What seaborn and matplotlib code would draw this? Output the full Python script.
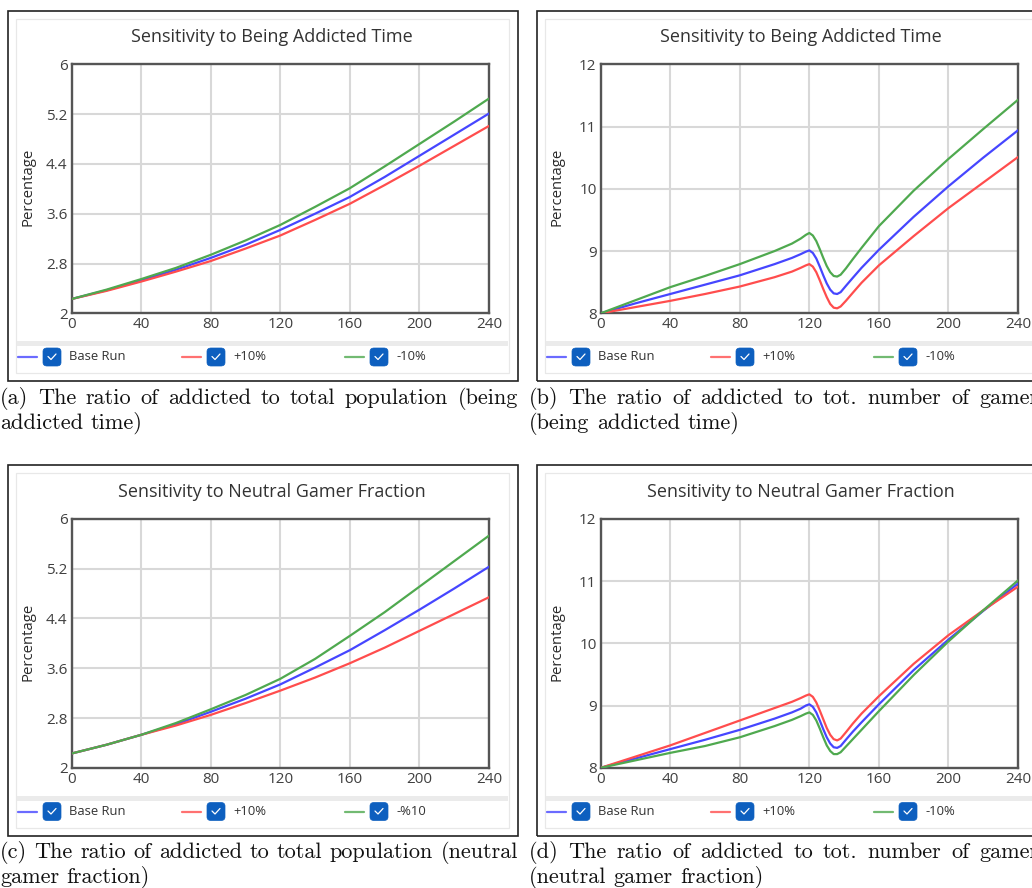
import numpy as np
import pandas as pd
import matplotlib
matplotlib.use("Agg")
import matplotlib.pyplot as plt
import seaborn as sns
from matplotlib.patches import Rectangle, FancyBboxPatch
from matplotlib.lines import Line2D

# ---------------- data ----------------
t_smooth = [0, 20, 40, 60, 80, 100, 120, 140, 160, 180, 200, 220, 240]
t_kink = [0, 20, 40, 60, 80, 100, 110, 115, 118, 120, 122, 124, 126, 128, 130, 132, 134,
          136, 138, 141, 145, 150, 160, 180, 200, 220, 240]

# (a) ratio addicted / total population, being-addicted-time sensitivity
a_base = [2.23, 2.37, 2.53, 2.70, 2.89, 3.10, 3.34, 3.60, 3.87, 4.19, 4.53, 4.87, 5.21]
a_plus = [2.23, 2.36, 2.51, 2.67, 2.84, 3.04, 3.25, 3.50, 3.76, 4.06, 4.37, 4.69, 5.01]
a_minus = [2.23, 2.38, 2.55, 2.73, 2.94, 3.17, 3.42, 3.71, 4.01, 4.36, 4.72, 5.08, 5.45]

# (b) ratio addicted / number of gamers, being-addicted-time sensitivity
b_base = [8.00, 8.16, 8.31, 8.46, 8.61, 8.79, 8.89, 8.95, 8.99, 9.01, 8.97, 8.88, 8.75, 8.61,
          8.48, 8.38, 8.32, 8.31, 8.34, 8.44, 8.57, 8.73, 9.02, 9.55, 10.04, 10.50, 10.94]
b_plus = [8.00, 8.10, 8.20, 8.31, 8.43, 8.58, 8.67, 8.73, 8.77, 8.79, 8.75, 8.66, 8.53, 8.39,
          8.26, 8.15, 8.09, 8.08, 8.11, 8.20, 8.33, 8.49, 8.77, 9.24, 9.69, 10.10, 10.51]
b_minus = [8.00, 8.21, 8.42, 8.60, 8.79, 9.00, 9.12, 9.20, 9.26, 9.29, 9.25, 9.16, 9.03, 8.89,
           8.76, 8.66, 8.60, 8.59, 8.62, 8.72, 8.87, 9.05, 9.40, 9.97, 10.48, 10.96, 11.43]

# (c) ratio addicted / total population, neutral-gamer-fraction sensitivity
c_base = [2.23, 2.37, 2.53, 2.70, 2.90, 3.11, 3.34, 3.61, 3.89, 4.21, 4.54, 4.88, 5.23]
c_plus = [2.23, 2.37, 2.53, 2.68, 2.85, 3.04, 3.24, 3.45, 3.68, 3.93, 4.20, 4.47, 4.74]
c_minus = [2.23, 2.37, 2.53, 2.72, 2.94, 3.17, 3.43, 3.75, 4.12, 4.50, 4.91, 5.32, 5.73]

# (d) ratio addicted / number of gamers, neutral-gamer-fraction sensitivity
d_base = [8.00, 8.15, 8.30, 8.45, 8.61, 8.79, 8.89, 8.95, 9.00, 9.02, 8.98, 8.89, 8.76, 8.62,
          8.49, 8.39, 8.33, 8.32, 8.35, 8.45, 8.58, 8.73, 9.02, 9.57, 10.06, 10.52, 10.96]
d_plus = [8.00, 8.18, 8.36, 8.56, 8.76, 8.96, 9.06, 9.12, 9.16, 9.18, 9.14, 9.05, 8.92, 8.78,
          8.64, 8.53, 8.46, 8.44, 8.47, 8.57, 8.71, 8.87, 9.15, 9.67, 10.13, 10.53, 10.91]
d_minus = [8.00, 8.12, 8.24, 8.35, 8.49, 8.67, 8.77, 8.83, 8.87, 8.89, 8.85, 8.76, 8.63, 8.49,
           8.36, 8.27, 8.22, 8.22, 8.25, 8.34, 8.46, 8.61, 8.91, 9.49, 10.03, 10.53, 11.01]

x_ticks = [0, 40, 80, 120, 160, 200, 240]
y_ticks_pop = [2, 2.8, 3.6, 4.4, 5.2, 6]
y_ticks_gam = [8, 9, 10, 11, 12]

title_time = "Sensitivity to Being Addicted Time"
title_neutral = "Sensitivity to Neutral Gamer Fraction"
legend_std = ["Base Run", "+10%", "-10%"]
legend_c = ["Base Run", "+10%", "-%10"]
y_label = "Percentage"

captions = {
    "a": ["(a) The ratio of addicted to total population (being", "addicted time)"],
    "b": ["(b) The ratio of addicted to tot.  number of gamers", "(being addicted time)"],
    "c": ["(c) The ratio of addicted to total population (neutral", "gamer fraction)"],
    "d": ["(d) The ratio of addicted to tot.  number of gamers", "(neutral gamer fraction)"],
}

colors = ["#4646ff", "#ff4d4d", "#4fa94f"]

# ---------------- figure ----------------
W, H = 1032, 888
sns.set_theme(style="white")
plt.rcParams['font.family'] = ['Open Sans', 'DejaVu Sans']

fig = plt.figure(figsize=(W / 100, H / 100), dpi=100)
fig.patch.set_facecolor("white")


def fx(x):
    return x / W


def fy(y):
    return 1 - y / H


def rect_px(x0, y0, x1, y1, **kw):
    r = Rectangle((fx(x0), fy(y1)), fx(x1) - fx(x0), fy(y0) - fy(y1),
                  transform=fig.transFigure, **kw)
    fig.patches.append(r)
    return r


renderer = fig.canvas.get_renderer()


def caption_line(text, x0, x1, ybase, justify):
    words = [w for w in text.split(" ") if w]
    objs = [fig.text(0, 0, w, family=['cmr10', 'DejaVu Serif'], fontsize=16,
                     color="#111111", va="baseline", ha="left") for w in words]
    widths = [o.get_window_extent(renderer).width for o in objs]
    if justify and len(words) > 1:
        gap = (x1 - x0 - sum(widths)) / (len(words) - 1)
    else:
        gap = 7.3
    x = x0
    for o, w in zip(objs, widths):
        o.set_position((fx(x), fy(ybase)))
        x += w + gap


panels = [
    ("a", 0, 0, t_smooth, [a_base, a_plus, a_minus], y_ticks_pop, title_time, legend_std),
    ("b", 529, 0, t_kink, [b_base, b_plus, b_minus], y_ticks_gam, title_time, legend_std),
    ("c", 0, 454.5, t_smooth, [c_base, c_plus, c_minus], y_ticks_pop, title_neutral, legend_c),
    ("d", 529, 454.5, t_kink, [d_base, d_plus, d_minus], y_ticks_gam, title_neutral, legend_std),
]

for key, dx, dy, tt, series, yt, title, labels in panels:
    # outer frame and inner faint frame
    rect_px(8 + dx, 11 + dy, 518 + dx, 381 + dy, fill=False, ec="#222222", lw=1.2, zorder=0)
    rect_px(16 + dx, 19 + dy, 509 + dx, 373 + dy, fill=False, ec="#e8e8e8", lw=0.9, zorder=0)

    # title
    fig.text(fx(272 + dx), fy(37 + dy), title, ha="center", va="center",
             fontsize=13.0, color="#333333")

    # axes
    ax = fig.add_axes([fx(71.7 + dx), fy(313.3 + dy),
                       fx(489) - fx(71.7), fy(64.3) - fy(313.3)])
    df = pd.DataFrame({
        "t": list(tt) * 3,
        "v": series[0] + series[1] + series[2],
        "s": [labels[0]] * len(tt) + [labels[1]] * len(tt) + [labels[2]] * len(tt),
    })
    sns.lineplot(data=df, x="t", y="v", hue="s", palette=colors, ax=ax,
                 legend=False, linewidth=1.6, zorder=3)
    ax.set_xlim(0, 240)
    ax.set_ylim(yt[0], yt[-1])
    ax.set_xticks(x_ticks)
    ax.set_xticklabels([str(v) for v in x_ticks])
    ax.set_yticks(yt)
    ax.set_yticklabels([("%g" % v) for v in yt])
    ax.set_xlabel("")
    ax.set_ylabel(y_label, fontsize=10.7, color="#2a2a2a")
    ax.yaxis.set_label_coords((36 - 71.7) / (489 - 71.7), 0.507)
    ax.grid(True, color="#d8d8d8", lw=1.5, zorder=0)
    ax.set_axisbelow(True)
    for sp in ax.spines.values():
        sp.set_color("#555555")
        sp.set_linewidth(1.7)
        sp.set_visible(True)
    ax.tick_params(length=0, labelsize=11, colors="#404040", pad=3.0)
    ax.set_facecolor("white")

    # legend band
    rect_px(17 + dx, 341 + dy, 508 + dx, 346 + dy, color="#ebebeb", lw=0, zorder=0)
    ly = 357 + dy
    for i, (lab, col) in enumerate(zip(labels, colors)):
        ox = [0, 164, 327][i] + dx
        fig.lines.append(Line2D([fx(18 + ox), fx(37 + ox)], [fy(ly), fy(ly)],
                                transform=fig.transFigure, color=col, lw=1.6, alpha=0.8))
        bx0, bx1 = 43 + ox, 61 + ox
        box = FancyBboxPatch((fx(bx0), fy(ly + 9)), fx(bx1) - fx(bx0), fy(ly - 9) - fy(ly + 9),
                             boxstyle="round,pad=0,rounding_size=0.004",
                             transform=fig.transFigure, fc="#0d5fbf", ec="#0d5fbf", lw=0.5)
        fig.patches.append(box)
        cx = (bx0 + bx1) / 2
        fig.lines.append(Line2D([fx(cx - 4), fx(cx - 1), fx(cx + 4)],
                                [fy(ly - 0.5), fy(ly + 2.5), fy(ly - 3)],
                                transform=fig.transFigure, color="white", lw=0.9))
        fig.text(fx(69 + ox), fy(ly), lab, ha="left", va="center", fontsize=9.4,
                 color="#333333")

    # caption
    l1, l2 = captions[key]
    cx0 = 0 + dx
    caption_line(l1, cx0, cx0 + 518, 403.5 + dy, True)
    caption_line(l2, cx0, cx0 + 518, 428.5 + dy, False)

fig.savefig("out.png", dpi=100, facecolor="white")
